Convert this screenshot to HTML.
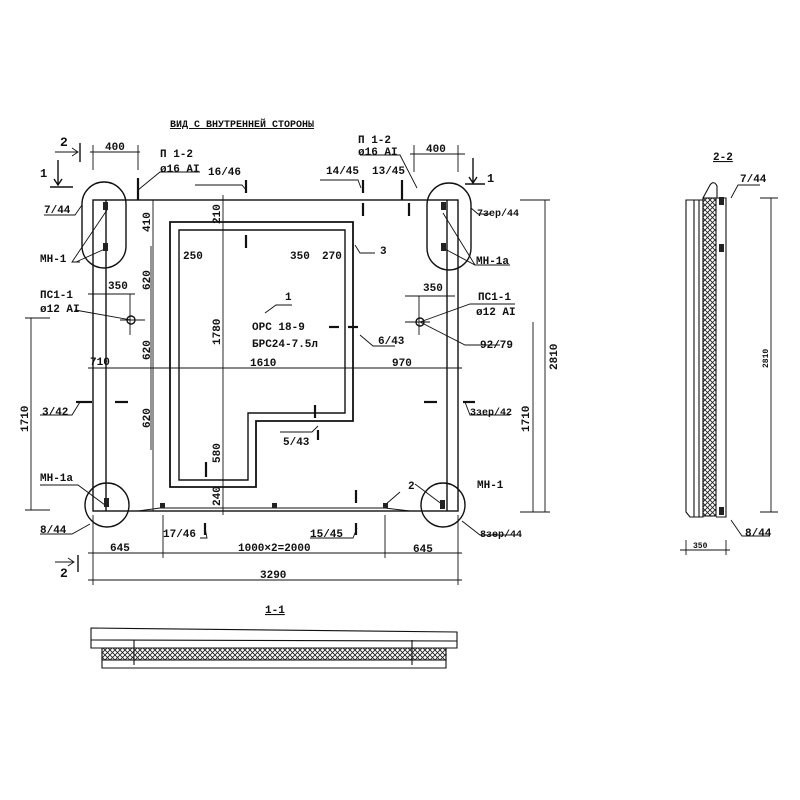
<!DOCTYPE html>
<html><head><meta charset="utf-8"><style>
html,body{margin:0;padding:0;background:#fff}
svg{display:block}
text{font-family:"Liberation Mono","DejaVu Sans Mono",monospace;font-weight:bold;fill:#111}
</style></head><body>
<svg width="800" height="800" viewBox="0 0 800 800" xmlns="http://www.w3.org/2000/svg">
<defs>
<pattern id="h" width="5" height="5" patternUnits="userSpaceOnUse">
<path d="M0 0L5 5M5 0L0 5" stroke="#222" stroke-width="0.9"/>
</pattern>
</defs>
<g stroke="#111" stroke-width="1.4" fill="none">
<rect x="93" y="200" width="365" height="311"/>
<line x1="106" y1="200" x2="106" y2="511"/>
<line x1="447" y1="200" x2="447" y2="511"/>
<line x1="153" y1="200" x2="153" y2="511" stroke-width="0.9"/>
<line x1="223" y1="195" x2="223" y2="515" stroke-width="0.9"/>
<path d="M170 222 H353 V421 H256 V487 H170 Z" stroke-width="1.8"/>
<path d="M179 230 H345 V413 H248 V480 H179 Z"/>
<rect x="82" y="182" width="44" height="86" rx="22"/>
<rect x="427" y="183" width="44" height="87" rx="22"/>
<circle cx="107" cy="505" r="22"/>
<circle cx="443" cy="505" r="22"/>
<line x1="88" y1="368" x2="462" y2="368" stroke-width="0.9"/>
<line x1="88" y1="553" x2="462" y2="553" stroke-width="0.9"/>
<line x1="88" y1="580" x2="462" y2="580" stroke-width="0.9"/>
<line x1="93" y1="515" x2="93" y2="585" stroke-width="0.9"/>
<line x1="163" y1="515" x2="163" y2="558" stroke-width="0.9"/>
<line x1="385" y1="515" x2="385" y2="558" stroke-width="0.9"/>
<line x1="458" y1="515" x2="458" y2="585" stroke-width="0.9"/>
<line x1="545" y1="200" x2="545" y2="512" stroke-width="0.9"/>
<line x1="533" y1="322" x2="533" y2="512" stroke-width="0.9"/>
<line x1="520" y1="200" x2="550" y2="200" stroke-width="0.9"/>
<line x1="520" y1="512" x2="550" y2="512" stroke-width="0.9"/>
<line x1="31" y1="318" x2="31" y2="510" stroke-width="0.9"/>
<line x1="25" y1="318" x2="50" y2="318" stroke-width="0.9"/>
<line x1="25" y1="510" x2="50" y2="510" stroke-width="0.9"/>
<line x1="151" y1="246" x2="151" y2="450" stroke-width="0.9"/>
<line x1="90" y1="152" x2="140" y2="152" stroke-width="0.9"/>
<line x1="93" y1="145" x2="93" y2="170" stroke-width="0.9"/>
<line x1="138" y1="145" x2="138" y2="170" stroke-width="0.9"/>
<line x1="410" y1="154" x2="465" y2="154" stroke-width="0.9"/>
<line x1="414" y1="145" x2="414" y2="172" stroke-width="0.9"/>
<line x1="458" y1="145" x2="458" y2="172" stroke-width="0.9"/>
<line x1="88" y1="294" x2="135" y2="294" stroke-width="0.9"/>
<line x1="405" y1="296" x2="455" y2="296" stroke-width="0.9"/>
<line x1="130" y1="294" x2="130" y2="335" stroke-width="0.9"/>
<line x1="419" y1="296" x2="419" y2="335" stroke-width="0.9"/>
<circle cx="131" cy="320" r="4"/>
<circle cx="420" cy="322" r="4"/>
<line x1="120" y1="320" x2="145" y2="320" stroke-width="0.9"/>
<line x1="405" y1="322" x2="430" y2="322" stroke-width="0.9"/>
<path d="M55 152 H78 M72 148 L78 152 L72 156" stroke-width="0.9"/>
<path d="M80 143 V162" stroke-width="1.4"/>
<path d="M58 160 V185 M54 179 L58 185 L62 179 M50 187 H73" stroke-width="1.4"/>
<path d="M473 158 V183 M469 177 L473 183 L477 177 M465 184 H485" stroke-width="1.4"/>
<path d="M138 190 L160 172 H200" stroke-width="0.9"/>
<path d="M417 188 L400 155 H360" stroke-width="0.9"/>
<path d="M44 215 H75 L82 205" stroke-width="0.9"/>
<path d="M80 262 H72 L107 210 M76 262 L107 248" stroke-width="0.9"/>
<path d="M510 265 H475 L443 248 M475 265 L443 213" stroke-width="0.9"/>
<path d="M490 214 H478 L471 208" stroke-width="0.9"/>
<path d="M75 310 L131 320" stroke-width="0.9"/>
<path d="M515 304 H470 L420 322" stroke-width="0.9"/>
<path d="M420 322 L465 345 H500" stroke-width="0.9"/>
<path d="M40 415 H72 L80 402" stroke-width="0.9"/>
<path d="M465 402 L470 415 H510" stroke-width="0.9"/>
<path d="M40 485 H78 L105 505" stroke-width="0.9"/>
<path d="M40 534 H72 L90 524" stroke-width="0.9"/>
<path d="M415 484 L443 505" stroke-width="0.9"/>
<path d="M462 521 L480 535 H520" stroke-width="0.9"/>
<path d="M400 492 L385 505" stroke-width="0.9"/>
<path d="M375 253 H360 L355 245" stroke-width="0.9"/>
<path d="M395 346 H373 L360 335" stroke-width="0.9"/>
<path d="M280 432 H312 L318 426" stroke-width="0.9"/>
<path d="M200 538 H207 L205 528" stroke-width="0.9"/>
<path d="M310 538 H353 L357 528" stroke-width="0.9"/>
<path d="M265 313 L276 305 H292" stroke-width="0.9"/>
<path d="M195 185 H242 L246 190" stroke-width="0.9"/>
<path d="M320 180 H358 L361 188" stroke-width="0.9"/>
<path d="M55 562 H74 M68 558 L74 562 L68 566" stroke-width="0.9"/>
<path d="M78 555 V572" stroke-width="1.4"/>
<path d="M138 511 L160 508 H385 L410 511" stroke-width="0.9"/>
</g>
<g stroke="#111" stroke-width="2.2">
<line x1="138" y1="178" x2="138" y2="200"/><line x1="246" y1="180" x2="246" y2="193"/>
<line x1="363" y1="180" x2="363" y2="193"/><line x1="402" y1="180" x2="402" y2="200"/>
<line x1="363" y1="203" x2="363" y2="216"/><line x1="409" y1="203" x2="409" y2="216"/>
<line x1="246" y1="235" x2="246" y2="248"/>
<line x1="329" y1="327" x2="339" y2="327"/><line x1="348" y1="327" x2="358" y2="327"/>
<line x1="76" y1="402" x2="92" y2="402"/><line x1="115" y1="402" x2="128" y2="402"/>
<line x1="424" y1="402" x2="437" y2="402"/><line x1="463" y1="402" x2="475" y2="402"/>
<line x1="315" y1="405" x2="315" y2="418"/><line x1="318" y1="430" x2="318" y2="440"/>
<line x1="206" y1="462" x2="206" y2="477"/><line x1="356" y1="490" x2="356" y2="503"/>
<line x1="205" y1="523" x2="205" y2="535"/><line x1="356" y1="523" x2="356" y2="535"/>
</g>
<g fill="#222">
<rect x="103" y="202" width="5" height="8"/><rect x="103" y="243" width="5" height="8"/>
<rect x="441" y="202" width="5" height="8"/><rect x="441" y="243" width="5" height="8"/>
<rect x="104" y="498" width="5" height="9"/><rect x="440" y="500" width="5" height="9"/>
<rect x="160" y="503" width="5" height="5"/><rect x="272" y="503" width="5" height="5"/>
<rect x="383" y="503" width="5" height="5"/>
</g>
<g font-size="11">
<text x="170" y="127" font-size="10" text-decoration="underline">ВИД С ВНУТРЕННЕЙ СТОРОНЫ</text>
<text x="60" y="146" font-size="13">2</text>
<text x="40" y="177" font-size="12">1</text>
<text x="487" y="182" font-size="12">1</text>
<text x="105" y="150">400</text><text x="426" y="152">400</text>
<text x="160" y="157">П 1-2</text><text x="160" y="172">ø16 AI</text>
<text x="358" y="143">П 1-2</text><text x="358" y="155">ø16 AI</text>
<text x="208" y="175">16/46</text><text x="326" y="174">14/45</text><text x="372" y="174">13/45</text>
<text x="44" y="213">7/44</text><text x="477" y="216" font-size="10">7зер/44</text>
<text x="40" y="262">МН-1</text><text x="476" y="264">МН-1а</text>
<text x="40" y="298">ПС1-1</text><text x="40" y="312">ø12 AI</text>
<text x="478" y="300">ПС1-1</text><text x="476" y="315">ø12 AI</text>
<text x="108" y="289">350</text><text x="423" y="291">350</text>
<text x="90" y="365">710</text><text x="250" y="366">1610</text><text x="392" y="366">970</text>
<text x="183" y="259">250</text><text x="290" y="259">350</text><text x="322" y="259">270</text>
<text x="380" y="254">3</text><text x="285" y="300">1</text>
<text x="252" y="330" font-weight="normal">ОРС 18-9</text><text x="252" y="347">БРС24-7.5л</text>
<text x="378" y="344">6/43</text><text x="480" y="348">92/79</text>
<text x="42" y="415">3/42</text><text x="470" y="415" font-size="10">3зер/42</text>
<text x="283" y="445">5/43</text>
<text x="40" y="481">МН-1а</text><text x="477" y="488">МН-1</text>
<text x="408" y="489">2</text>
<text x="40" y="533">8/44</text><text x="480" y="537" font-size="10">8зер/44</text>
<text x="163" y="537">17/46</text><text x="310" y="537">15/45</text>
<text x="110" y="551">645</text><text x="238" y="551">1000×2=2000</text><text x="413" y="552">645</text>
<text x="260" y="578">3290</text>
<text x="60" y="577" font-size="13">2</text>
<text x="265" y="613" text-decoration="underline">1-1</text>
<text x="713" y="160" text-decoration="underline">2-2</text>
<text x="740" y="182">7/44</text><text x="745" y="536">8/44</text>
<text x="693" y="548" font-size="8">350</text>
</g>
<g font-size="11">
<text transform="translate(150,232) rotate(-90)">410</text>
<text transform="translate(220,224) rotate(-90)">210</text>
<text transform="translate(150,290) rotate(-90)">620</text>
<text transform="translate(150,360) rotate(-90)">620</text>
<text transform="translate(150,428) rotate(-90)">620</text>
<text transform="translate(220,345) rotate(-90)">1780</text>
<text transform="translate(220,463) rotate(-90)">580</text>
<text transform="translate(220,506) rotate(-90)">240</text>
<text transform="translate(557,370) rotate(-90)">2810</text>
<text transform="translate(529,432) rotate(-90)">1710</text>
<text transform="translate(28,432) rotate(-90)">1710</text>
<text transform="translate(768,368) rotate(-90)" font-size="8">2810</text>
</g>
<g stroke="#111" stroke-width="1.1" fill="none">
<rect x="102" y="639" width="344" height="21" fill="url(#h)"/>
<path d="M91 628 L457 632 V648 H91 Z" fill="#fff"/>
<line x1="91" y1="640" x2="457" y2="641"/>
<path d="M102 648 V668 H446 V648"/>
<line x1="134" y1="640" x2="134" y2="665"/><line x1="412" y1="640" x2="412" y2="665"/>
</g>
<g stroke="#111" stroke-width="1.1" fill="none">
<rect x="703" y="198" width="13" height="318" fill="url(#h)"/>
<path d="M686 200 H703 V517 H690 L686 512 Z"/>
<line x1="694" y1="200" x2="694" y2="517"/><line x1="699" y1="200" x2="699" y2="517"/>
<path d="M716 198 H726 V517 H716"/>
<path d="M703 198 L710 185 Q714 180 717 186 L717 198"/>
<path d="M731 198 L738 185 H760" stroke-width="0.9"/>
<path d="M731 520 L742 536 H770" stroke-width="0.9"/>
<line x1="771" y1="198" x2="771" y2="512" stroke-width="0.9"/>
<line x1="760" y1="198" x2="778" y2="198" stroke-width="0.9"/>
<line x1="760" y1="512" x2="778" y2="512" stroke-width="0.9"/>
<line x1="680" y1="550" x2="730" y2="550" stroke-width="0.9"/>
<line x1="686" y1="540" x2="686" y2="555" stroke-width="0.9"/>
<line x1="726" y1="540" x2="726" y2="555" stroke-width="0.9"/>
</g>
<g fill="#222"><rect x="719" y="197" width="5" height="8"/><rect x="719" y="244" width="5" height="8"/><rect x="719" y="507" width="5" height="8"/></g>
</svg>
</body></html>
